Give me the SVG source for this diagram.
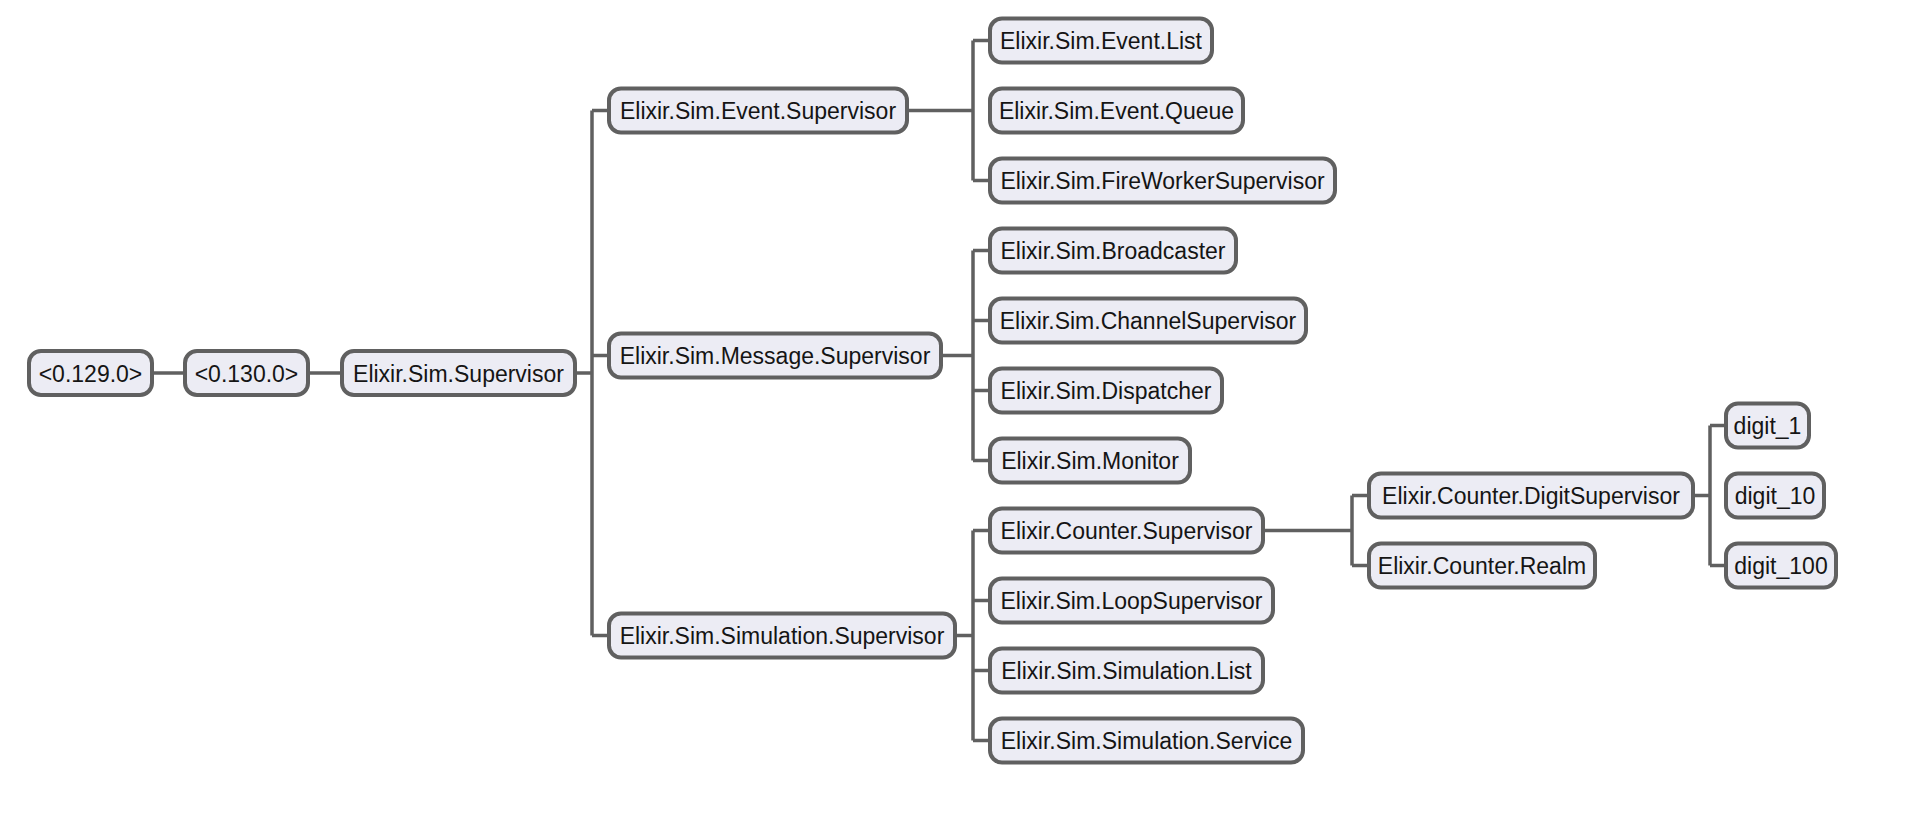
<svg xmlns="http://www.w3.org/2000/svg" width="1930" height="816" viewBox="0 0 1930 816">
<style>
.n rect{fill:#ECECF4;stroke:#606060;stroke-width:4}
.n text{font-family:"Liberation Sans",Arial,sans-serif;font-size:23px;fill:#151515;text-anchor:middle}
.c path{fill:none;stroke:#606060;stroke-width:3.5}
</style>
<rect width="1930" height="816" fill="#FFFFFF"/>
<g class="c" id="connectors">
<path d="M154,373 H183"/>
<path d="M310,373 H340"/>
<path d="M577,373 H592 M592,110.5 V635.5 M592,110.5 H607 M592,355.5 H607 M592,635.5 H607"/>
<path d="M909,110.5 H973 M973,40.5 V180.5 M973,40.5 H988 M973,180.5 H988"/>
<path d="M943,355.5 H973 M973,250.5 V460.5 M973,250.5 H988 M973,320.5 H988 M973,390.5 H988 M973,460.5 H988"/>
<path d="M957,635.5 H973 M973,530.5 V740.5 M973,530.5 H988 M973,600.5 H988 M973,670.5 H988 M973,740.5 H988"/>
<path d="M1265,530.5 H1352 M1352,495.5 V565.5 M1352,495.5 H1367 M1352,565.5 H1367"/>
<path d="M1695,495.5 H1710 M1710,425.5 V565.5 M1710,425.5 H1724 M1710,565.5 H1724"/>
</g>
<g class="n" id="n0129"><rect x="29" y="351" width="123" height="44" rx="12"/><text x="90.5" y="381.5">&lt;0.129.0&gt;</text></g>
<g class="n" id="n0130"><rect x="185" y="351" width="123" height="44" rx="12"/><text x="246.5" y="381.5">&lt;0.130.0&gt;</text></g>
<g class="n" id="simSupervisor"><rect x="342" y="351" width="233" height="44" rx="12"/><text x="458.5" y="381.5">Elixir.Sim.Supervisor</text></g>
<g class="n" id="eventSupervisor"><rect x="609" y="88.5" width="298" height="44" rx="12"/><text x="758" y="119">Elixir.Sim.Event.Supervisor</text></g>
<g class="n" id="messageSupervisor"><rect x="609" y="333.5" width="332" height="44" rx="12"/><text x="775" y="364">Elixir.Sim.Message.Supervisor</text></g>
<g class="n" id="simulationSupervisor"><rect x="609" y="613.5" width="346" height="44" rx="12"/><text x="782" y="644">Elixir.Sim.Simulation.Supervisor</text></g>
<g class="n" id="eventList"><rect x="990" y="18.5" width="222" height="44" rx="12"/><text x="1101" y="49">Elixir.Sim.Event.List</text></g>
<g class="n" id="eventQueue"><rect x="990" y="88.5" width="253" height="44" rx="12"/><text x="1116.5" y="119">Elixir.Sim.Event.Queue</text></g>
<g class="n" id="fireWorkerSupervisor"><rect x="990" y="158.5" width="345" height="44" rx="12"/><text x="1162.5" y="189">Elixir.Sim.FireWorkerSupervisor</text></g>
<g class="n" id="broadcaster"><rect x="990" y="228.5" width="246" height="44" rx="12"/><text x="1113" y="259">Elixir.Sim.Broadcaster</text></g>
<g class="n" id="channelSupervisor"><rect x="990" y="298.5" width="316" height="44" rx="12"/><text x="1148" y="329">Elixir.Sim.ChannelSupervisor</text></g>
<g class="n" id="dispatcher"><rect x="990" y="368.5" width="232" height="44" rx="12"/><text x="1106" y="399">Elixir.Sim.Dispatcher</text></g>
<g class="n" id="monitor"><rect x="990" y="438.5" width="200" height="44" rx="12"/><text x="1090" y="469">Elixir.Sim.Monitor</text></g>
<g class="n" id="counterSupervisor"><rect x="990" y="508.5" width="273" height="44" rx="12"/><text x="1126.5" y="539">Elixir.Counter.Supervisor</text></g>
<g class="n" id="loopSupervisor"><rect x="990" y="578.5" width="283" height="44" rx="12"/><text x="1131.5" y="609">Elixir.Sim.LoopSupervisor</text></g>
<g class="n" id="simulationList"><rect x="990" y="648.5" width="273" height="44" rx="12"/><text x="1126.5" y="679">Elixir.Sim.Simulation.List</text></g>
<g class="n" id="simulationService"><rect x="990" y="718.5" width="313" height="44" rx="12"/><text x="1146.5" y="749">Elixir.Sim.Simulation.Service</text></g>
<g class="n" id="digitSupervisor"><rect x="1369" y="473.5" width="324" height="44" rx="12"/><text x="1531" y="504">Elixir.Counter.DigitSupervisor</text></g>
<g class="n" id="counterRealm"><rect x="1369" y="543.5" width="226" height="44" rx="12"/><text x="1482" y="574">Elixir.Counter.Realm</text></g>
<g class="n" id="digit1"><rect x="1726" y="403.5" width="83" height="44" rx="12"/><text x="1767.5" y="434">digit_1</text></g>
<g class="n" id="digit10"><rect x="1726" y="473.5" width="98" height="44" rx="12"/><text x="1775" y="504">digit_10</text></g>
<g class="n" id="digit100"><rect x="1726" y="543.5" width="110" height="44" rx="12"/><text x="1781" y="574">digit_100</text></g>
</svg>
